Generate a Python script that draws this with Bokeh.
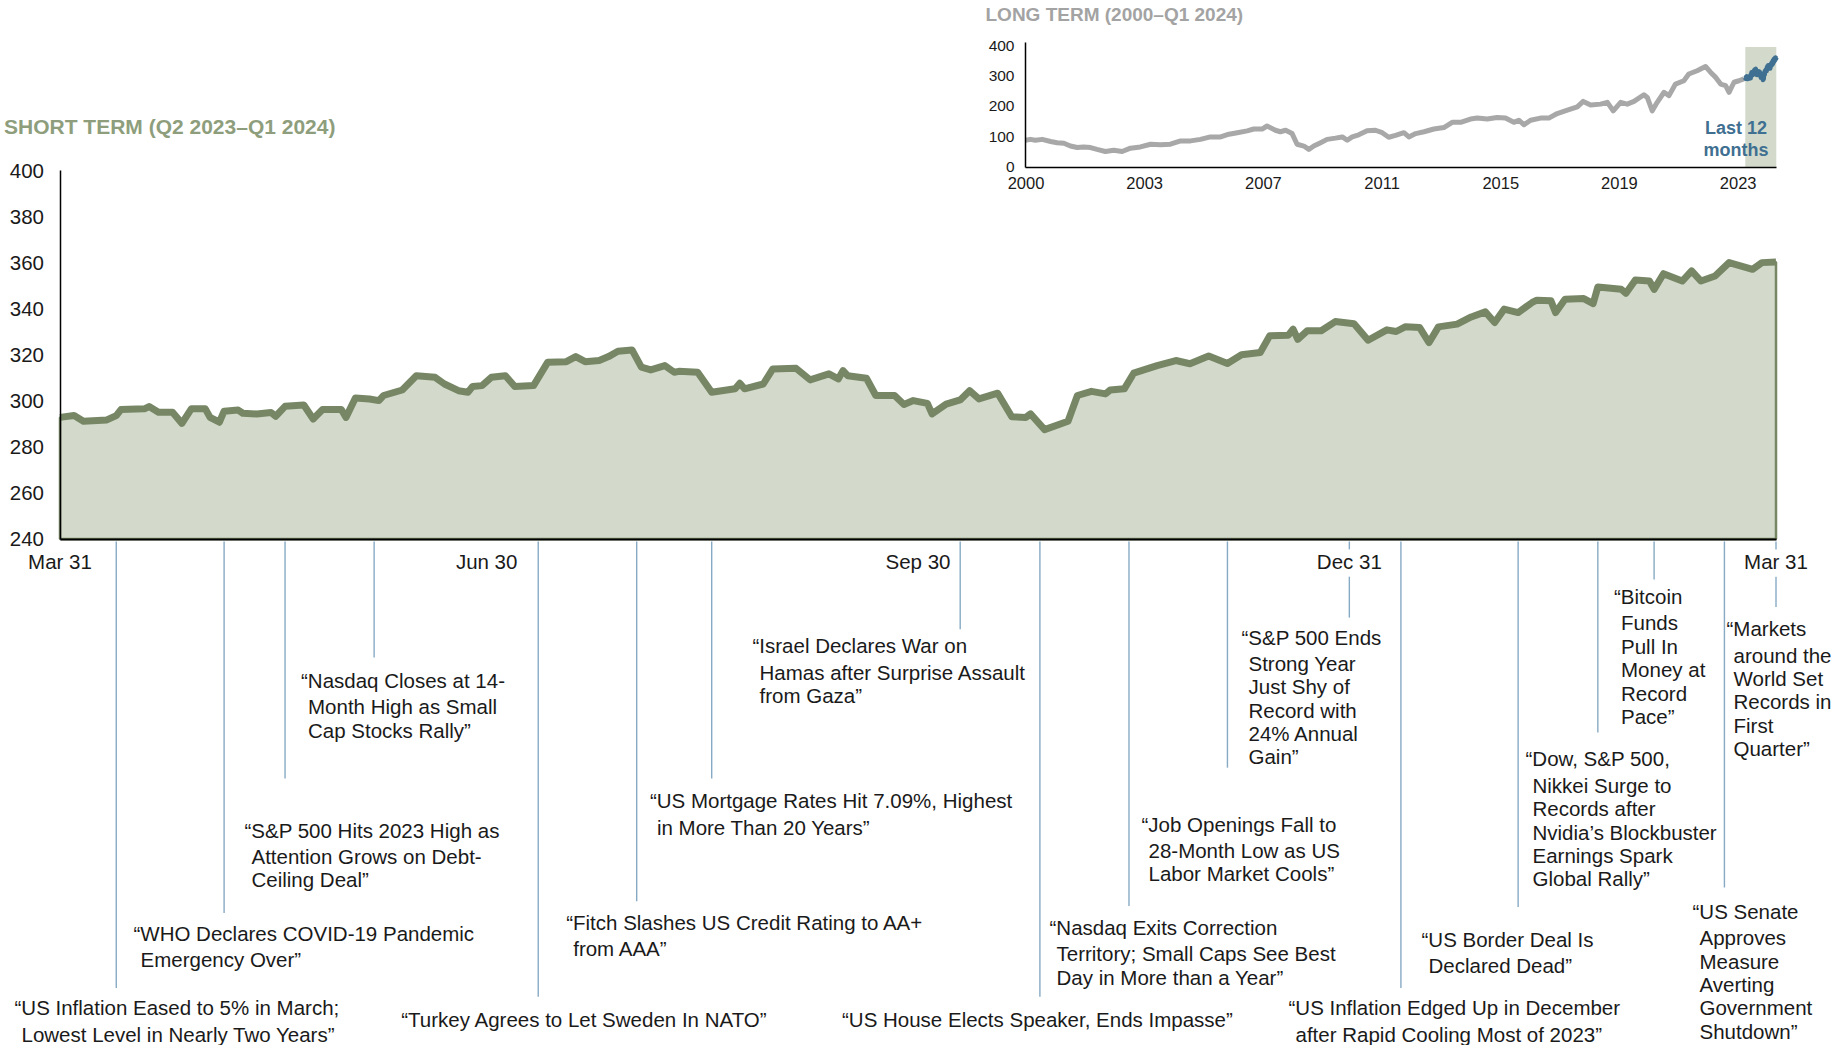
import pandas as pd
from bokeh.plotting import figure
from bokeh.models import (Range1d, LinearAxis, DatetimeAxis, FixedTicker,
                          DatetimeTickFormatter, CustomJSTickFormatter, ColumnDataSource)
from bokeh.core.properties import value
from bokeh.embed import file_html
from bokeh.resources import INLINE

# ---------------------------------------------------------------- data
st_dates = [
    "2023-03-31", "2023-04-03", "2023-04-05", "2023-04-10", "2023-04-12", "2023-04-13",
    "2023-04-18", "2023-04-19", "2023-04-21", "2023-04-24", "2023-04-26", "2023-04-28",
    "2023-05-01", "2023-05-02", "2023-05-04", "2023-05-05", "2023-05-08", "2023-05-09",
    "2023-05-12", "2023-05-15", "2023-05-16", "2023-05-18", "2023-05-22", "2023-05-24",
    "2023-05-26", "2023-05-30", "2023-05-31", "2023-06-02", "2023-06-05", "2023-06-07",
    "2023-06-08", "2023-06-12", "2023-06-15", "2023-06-19", "2023-06-21", "2023-06-24",
    "2023-06-26", "2023-06-27", "2023-06-29", "2023-07-01", "2023-07-04", "2023-07-06",
    "2023-07-10", "2023-07-13", "2023-07-17", "2023-07-19", "2023-07-21", "2023-07-24",
    "2023-07-26", "2023-07-28", "2023-07-31", "2023-08-02", "2023-08-04", "2023-08-07",
    "2023-08-09", "2023-08-10", "2023-08-14", "2023-08-17", "2023-08-22", "2023-08-23",
    "2023-08-24", "2023-08-28", "2023-08-30", "2023-09-04", "2023-09-07", "2023-09-11",
    "2023-09-13", "2023-09-14", "2023-09-15", "2023-09-19", "2023-09-21", "2023-09-25",
    "2023-09-27", "2023-09-29", "2023-10-02", "2023-10-03", "2023-10-06", "2023-10-09",
    "2023-10-11", "2023-10-13", "2023-10-17", "2023-10-20", "2023-10-23", "2023-10-24",
    "2023-10-27", "2023-11-01", "2023-11-03", "2023-11-06", "2023-11-09", "2023-11-10",
    "2023-11-13", "2023-11-15", "2023-11-20", "2023-11-24", "2023-11-27", "2023-12-01",
    "2023-12-05", "2023-12-08", "2023-12-12", "2023-12-14", "2023-12-18", "2023-12-19",
    "2023-12-20", "2023-12-22", "2023-12-25", "2023-12-28", "2024-01-01", "2024-01-04",
    "2024-01-08", "2024-01-10", "2024-01-12", "2024-01-15", "2024-01-17", "2024-01-19",
    "2024-01-23", "2024-01-26", "2024-01-29", "2024-01-31", "2024-02-02", "2024-02-05",
    "2024-02-08", "2024-02-09", "2024-02-12", "2024-02-13", "2024-02-15", "2024-02-19",
    "2024-02-21", "2024-02-22", "2024-02-27", "2024-02-28", "2024-03-01", "2024-03-04",
    "2024-03-05", "2024-03-07", "2024-03-11", "2024-03-13", "2024-03-15", "2024-03-18",
    "2024-03-21", "2024-03-26", "2024-03-28", "2024-03-31",
]
st_values = [
    292.8, 293.6, 291.1, 291.7, 293.6, 296.2,
    296.5, 297.5, 295.0, 295.0, 290.2, 296.5,
    296.5, 292.8, 290.7, 295.5, 296.0, 294.6,
    294.3, 294.9, 293.3, 297.6, 298.2, 292.1,
    296.2, 296.2, 292.8, 301.2, 300.8, 300.1,
    302.3, 304.7, 310.9, 310.2, 307.3, 304.4,
    303.7, 306.2, 306.6, 310.2, 310.9, 306.2,
    306.6, 316.7, 317.0, 319.2, 317.0, 317.5,
    319.2, 321.5, 322.1, 314.6, 313.4, 315.3,
    312.4, 312.8, 312.4, 303.7, 305.2, 307.6,
    305.2, 307.3, 313.8, 314.1, 309.1, 311.7,
    309.5, 313.1, 310.9, 309.8, 302.3, 302.3,
    298.4, 300.1, 298.9, 294.3, 298.6, 300.4,
    304.4, 300.8, 303.3, 293.1, 292.8, 294.3,
    287.5, 291.1, 302.3, 304.1, 303.0, 304.7,
    305.2, 312.0, 315.3, 317.5, 316.1, 319.5,
    316.2, 320.0, 321.0, 328.2, 328.5, 331.1,
    326.7, 330.4, 330.4, 334.4, 333.5, 326.3,
    330.8, 330.1, 332.2, 331.8, 325.3, 332.1,
    333.3, 336.4, 338.6, 334.0, 339.8, 338.3,
    342.7, 343.7, 343.4, 338.3, 344.1, 344.4,
    342.2, 349.4, 348.4, 346.7, 352.5, 352.0,
    348.4, 355.2, 352.0, 356.4, 352.0, 354.2,
    360.0, 357.1, 360.0, 360.3,
]
st_tick_dates = ["2023-03-31", "2023-06-30", "2023-09-30", "2023-12-31", "2024-03-31"]
st_y_ticks = [240, 260, 280, 300, 320, 340, 360, 380, 400]

lt_years = [
    2000.00, 2000.16, 2000.32, 2000.54, 2000.81, 2001.02, 2001.24, 2001.45, 2001.67, 2001.88,
    2002.10, 2002.31, 2002.58, 2002.85, 2003.12, 2003.39, 2003.71, 2004.04, 2004.36, 2004.68,
    2005.01, 2005.33, 2005.65, 2005.97, 2006.30, 2006.57, 2006.84, 2007.16, 2007.37, 2007.64,
    2007.80, 2008.07, 2008.23, 2008.40, 2008.61, 2008.77, 2008.99, 2009.15, 2009.31, 2009.53,
    2009.74, 2010.01, 2010.23, 2010.39, 2010.55, 2010.76, 2011.03, 2011.30, 2011.52, 2011.73,
    2011.95, 2012.22, 2012.38, 2012.60, 2012.87, 2013.19, 2013.51, 2013.78, 2014.05, 2014.37,
    2014.59, 2014.91, 2015.23, 2015.50, 2015.77, 2015.93, 2016.10, 2016.31, 2016.63, 2016.90,
    2017.17, 2017.50, 2017.82, 2018.01, 2018.25, 2018.57, 2018.79, 2018.98, 2019.22, 2019.43,
    2019.65, 2019.97, 2020.08, 2020.24, 2020.40, 2020.62, 2020.78, 2020.99, 2021.26, 2021.42,
    2021.69, 2021.96, 2022.12, 2022.29, 2022.45, 2022.61, 2022.72, 2022.88, 2023.04, 2023.20,
]
lt_values = [
    88, 91, 88, 91, 84, 80, 78, 69, 64, 66,
    64, 58, 51, 55, 51, 62, 66, 75, 73, 75,
    86, 86, 91, 99, 99, 108, 113, 119, 125, 125,
    135, 121, 116, 121, 110, 75, 69, 58, 69, 80,
    91, 95, 99, 88, 99, 106, 119, 121, 113, 98,
    104, 113, 99, 110, 116, 125, 130, 147, 147, 158,
    161, 158, 163, 161, 147, 154, 139, 154, 161, 161,
    176, 187, 198, 216, 204, 207, 213, 185, 213, 207,
    216, 238, 229, 185, 213, 246, 235, 273, 284, 306,
    317, 331, 312, 295, 273, 268, 246, 279, 284, 290,
]
lt_tick_start = "2000-01-07"      # weekly series, one label every 200 weeks
lt_tick_step_days = 1400
lt_tick_count = 7
lt_y_ticks = [0, 100, 200, 300, 400]

ev_dates = ["2023-04-12", "2023-05-05", "2023-05-18", "2023-06-06", "2023-07-11",
            "2023-08-01", "2023-08-17", "2023-10-09", "2023-10-26", "2023-11-14",
            "2023-12-05", "2023-12-31", "2024-01-11", "2024-02-05", "2024-02-22",
            "2024-03-05", "2024-03-20", "2024-03-31"]
ev_lines = [
    ["“US Inflation Eased to 5% in March;", "Lowest Level in Nearly Two Years”"],
    ["“WHO Declares COVID-19 Pandemic", "Emergency Over”"],
    ["“S&P 500 Hits 2023 High as", "Attention Grows on Debt-", "Ceiling Deal”"],
    ["“Nasdaq Closes at 14-", "Month High as Small", "Cap Stocks Rally”"],
    ["“Turkey Agrees to Let Sweden In NATO”"],
    ["“Fitch Slashes US Credit Rating to AA+", "from AAA”"],
    ["“US Mortgage Rates Hit 7.09%, Highest", "in More Than 20 Years”"],
    ["“Israel Declares War on", "Hamas after Surprise Assault", "from Gaza”"],
    ["“US House Elects Speaker, Ends Impasse”"],
    ["“Nasdaq Exits Correction", "Territory; Small Caps See Best", "Day in More than a Year”"],
    ["“Job Openings Fall to", "28-Month Low as US", "Labor Market Cools”"],
    ["“S&P 500 Ends", "Strong Year", "Just Shy of", "Record with", "24% Annual", "Gain”"],
    ["“US Inflation Edged Up in December", "after Rapid Cooling Most of 2023”"],
    ["“US Border Deal Is", "Declared Dead”"],
    ["“Dow, S&P 500,", "Nikkei Surge to", "Records after", "Nvidia’s Blockbuster",
     "Earnings Spark", "Global Rally”"],
    ["“Bitcoin", "Funds", "Pull In", "Money at", "Record", "Pace”"],
    ["“US Senate", "Approves", "Measure", "Averting", "Government", "Shutdown”"],
    ["“Markets", "around the", "World Set", "Records in", "First", "Quarter”"],
]

short_title = "SHORT TERM (Q2 2023–Q1 2024)"
long_title = "LONG TERM (2000–Q1 2024)"
shade_label = ["Last 12", "months"]

# ---------------------------------------------------------------- layout (reference pixels)
ev_line_end = [999, 922, 784, 660, 1008, 910, 784, 631, 1008, 915, 773, 619,
               999, 916, 737, 580, 896, 608]
ev_text_x = [14, 133, 244, 300.5, 400.7, 565.7, 649.4, 752, 841.5, 1049, 1141, 1241,
             1288, 1421, 1525, 1613.5, 1692, 1726]
ev_text_y = [1019.5, 943, 837, 683.6, 1031, 932, 807, 648, 1031, 937, 831, 639,
             1019.5, 949, 764, 597.5, 920.5, 630.5]
FIRST_GAP, LINE_GAP, INDENT = 27, 24, 7

W, H = 1832, 1045
Y_SPLIT, K_LOW = 545.0, (1043.0 - 545.0) / (1056.0 - 545.0)


def fx(x):
    return x


def fy(y):
    # identity over the charts, slight compression of the headline area so it fits
    return y if y <= Y_SPLIT else Y_SPLIT + (y - Y_SPLIT) * K_LOW


OLIVE = "#778766"
AREA = "#d3dacb"
TITLE_GREEN = "#8e9e7c"
GRAY_T = "#a3a3a3"
GRAY_L = "#a8a8a8"
BLUE = "#3f6f91"
ANN = "#87aac4"
TEXT = "#1a1a1a"
FONT = "Liberation Sans"
FS = "20.5px"


def ms(d):
    return pd.Timestamp(d).value / 1e6


def frac_year(d):
    ts = pd.Timestamp(d)
    a = pd.Timestamp(year=ts.year, month=1, day=1)
    b = pd.Timestamp(year=ts.year + 1, month=1, day=1)
    return ts.year + (ts - a) / (b - a)


st_t = [ms(d) for d in st_dates]
t0, t1 = st_t[0], st_t[-1]
Y_MIN, Y_MAX = st_y_ticks[0], st_y_ticks[-1]

# main scales
X0, X1 = fx(59.5), fx(1775.5)
ppx = (t1 - t0) / (X1 - X0)
x_range = Range1d(t0 - X0 * ppx, t0 + (W - X0) * ppx)
YA, YB = fy(170), fy(538.5)
upp = (Y_MAX - Y_MIN) / (YB - YA)
y_range = Range1d(Y_MIN - (H - YB) * upp, Y_MAX + YA * upp)

# inset scales
L0 = 2000.0
L1 = frac_year(st_dates[-1])
LX0, LX1 = fx(1025), fx(1775.8)
lpp = (L1 - L0) / (LX1 - LX0)
LY0, LY4 = fy(166.5), fy(45)
lu = 400 / (LY0 - LY4)

p = figure(width=W, height=H, x_range=x_range, y_range=y_range,
           x_axis_type=None, y_axis_type=None, toolbar_location=None,
           output_backend="svg", min_border=0, title=None)
p.outline_line_color = None
p.background_fill_color = "white"
p.border_fill_color = "white"
p.extra_x_ranges = {"lx": Range1d(L0 - LX0 * lpp, L0 + (W - LX0) * lpp),
                    "pxx": Range1d(0, W)}
p.extra_y_ranges = {"ly": Range1d(0 - (H - LY0) * lu, 400 + LY4 * lu),
                    "px": Range1d(H, 0)}


def style_axis(ax, size, standoff, width):
    ax.major_tick_line_color = None
    ax.minor_tick_line_color = None
    ax.major_tick_in = 0
    ax.major_tick_out = 0
    ax.minor_tick_in = 0
    ax.minor_tick_out = 0
    ax.axis_line_color = "black"
    ax.axis_line_width = width
    ax.major_label_text_font = FONT
    ax.major_label_text_font_size = size
    ax.major_label_text_color = TEXT
    ax.major_label_standoff = standoff


# ---------------- main short-term chart
p.patch([t0] + st_t + [t1], [Y_MIN] + st_values + [Y_MIN],
        fill_color=AREA, line_color=OLIVE, line_width=2.5)
p.line(st_t, st_values, line_color=OLIVE, line_width=7, line_join="round")

yax = LinearAxis(fixed_location=t0, bounds=(Y_MIN, Y_MAX),
                 ticker=FixedTicker(ticks=st_y_ticks))
style_axis(yax, FS, 16, 1.5)
p.add_layout(yax, "left")

fmt = "%b %d"
xax = DatetimeAxis(fixed_location=Y_MIN, bounds=(t0, t1),
                   ticker=FixedTicker(ticks=[ms(d) for d in st_tick_dates]),
                   formatter=DatetimeTickFormatter(days=fmt, months=fmt, years=fmt,
                                                   hours=fmt, hourmin=fmt))
style_axis(xax, FS, 11, 2)
p.add_layout(xax, "below")

# ---------------- event lines and texts
tick_set = set(st_tick_dates)
sx, sy0, sy1 = [], [], []
top = fy(541)
gap_a, gap_b = fy(549), fy(577)
for d, e in zip(ev_dates, ev_line_end):
    t = ms(d)
    if d in tick_set:
        sx += [t, t]
        sy0 += [top, gap_b]
        sy1 += [gap_a, fy(e)]
    else:
        sx.append(t)
        sy0.append(top)
        sy1.append(fy(e))
p.segment(x0=sx, y0=sy0, x1=sx, y1=sy1, y_range_name="px",
          line_color=ANN, line_width=1.4)

tx, ty, tt = [], [], []
for lines, x, y in zip(ev_lines, ev_text_x, ev_text_y):
    for j, s in enumerate(lines):
        yy = y if j == 0 else y + FIRST_GAP + (j - 1) * LINE_GAP
        xx = x if j == 0 else x + INDENT
        tx.append(fx(xx))
        ty.append(fy(yy))
        tt.append(s)
p.text(x="x", y="y", text="t", source=ColumnDataSource(dict(x=tx, y=ty, t=tt)),
       x_range_name="pxx", y_range_name="px",
       text_font=value(FONT), text_font_size=value(FS), text_color=TEXT,
       text_align="left", text_baseline="middle")

p.text(x=[fx(3.5)], y=[fy(126)], text=[short_title], x_range_name="pxx", y_range_name="px",
       text_font=value(FONT), text_font_size=value("21px"), text_font_style="bold",
       text_color=TITLE_GREEN, text_align="left", text_baseline="middle")

# ---------------- inset long-term chart
p.quad(left=[frac_year(st_dates[0])], right=[L1], bottom=[0], top=[395],
       x_range_name="lx", y_range_name="ly", fill_color=AREA, line_color=None)
p.line(lt_years, lt_values, x_range_name="lx", y_range_name="ly",
       line_color=GRAY_L, line_width=5, line_join="round")
p.line([frac_year(d) for d in st_dates], st_values, x_range_name="lx", y_range_name="ly",
       line_color=BLUE, line_width=5, line_join="round")

lt_ticks = [frac_year(pd.Timestamp(lt_tick_start) + pd.Timedelta(days=lt_tick_step_days * k))
            for k in range(lt_tick_count)]
lxax = LinearAxis(x_range_name="lx", y_range_name="ly", fixed_location=0, bounds=(L0, L1),
                  ticker=FixedTicker(ticks=lt_ticks),
                  formatter=CustomJSTickFormatter(code="return Math.floor(tick).toString()"))
style_axis(lxax, "16.5px", 10, 1.5)
p.add_layout(lxax, "below")
lyax = LinearAxis(x_range_name="lx", y_range_name="ly", fixed_location=L0, bounds=(0, 410),
                  ticker=FixedTicker(ticks=lt_y_ticks))
style_axis(lyax, "15.5px", 11, 1.5)
p.add_layout(lyax, "left")

p.text(x=[fx(985)], y=[fy(14)], text=[long_title], x_range_name="pxx", y_range_name="px",
       text_font=value(FONT), text_font_size=value("19px"), text_font_style="bold",
       text_color=GRAY_T, text_align="left", text_baseline="middle")
p.text(x=[fx(1735.5)] * 2, y=[fy(127.3), fy(149.7)], text=shade_label,
       x_range_name="pxx", y_range_name="px",
       text_font=value(FONT), text_font_size=value("18px"), text_font_style="bold",
       text_color=BLUE, text_align="center", text_baseline="middle")

open("out.html", "w").write(file_html(p, INLINE))
